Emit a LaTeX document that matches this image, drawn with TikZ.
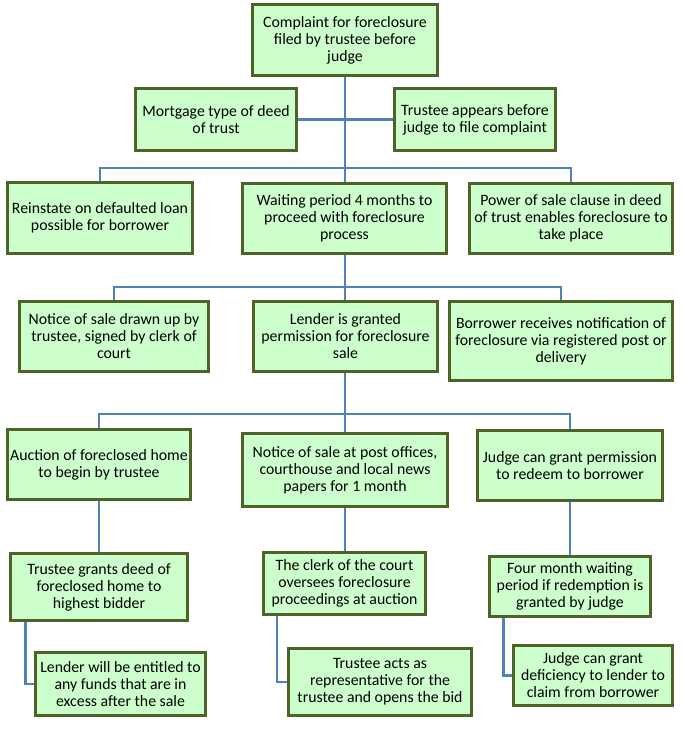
\documentclass[tikz,border=0pt]{standalone}
\usepackage{fontspec}
\setmainfont{Carlito}
\usetikzlibrary{backgrounds}
\definecolor{boxfill}{RGB}{204,255,204}
\definecolor{boxline}{RGB}{79,98,40}
\definecolor{connblue}{RGB}{79,129,189}
\begin{document}
\begin{tikzpicture}[x=1pt,y=-1pt,
  box/.style={draw=boxline, fill=boxfill, line width=3pt, align=center, inner sep=2pt,
    font=\fontsize{15.8}{17}\selectfont},
  link/.style={draw=connblue, line width=2.8pt}]
\useasboundingbox (0,0) rectangle (683,732);

% row 0
\node[box, minimum width=185pt, minimum height=71pt] (top) at (345,40)
  {Complaint for foreclosure\\filed by trustee before\\judge};
\node[box, minimum width=161pt, minimum height=62pt] (mort) at (216,119.5)
  {Mortgage type of deed\\of trust};
\node[box, minimum width=161pt, minimum height=62pt] (tapp) at (475,119.5)
  {Trustee appears before\\judge to file complaint};
% row 1
\node[box, minimum width=185pt, minimum height=71pt] (reinst) at (100,218)
  {Reinstate on defaulted loan\\possible for borrower};
\node[box, minimum width=204pt, minimum height=70pt] (wait) at (344.5,218.5)
  {Waiting period 4 months to\\proceed with foreclosure\\process};
\node[box, minimum width=203pt, minimum height=70pt] (power) at (571,218.5)
  {Power of sale clause in deed\\of trust enables foreclosure to\\take place};
% row 2
\node[box, minimum width=189pt, minimum height=70pt] (notice) at (114,336.5)
  {Notice of sale drawn up by\\trustee, signed by clerk of\\court};
\node[box, minimum width=184pt, minimum height=70pt] (lender) at (345.5,336.5)
  {Lender is granted\\permission for foreclosure\\sale};
\node[box, minimum width=223pt, minimum height=79pt] (borrower) at (561,341)
  {Borrower receives notification of\\foreclosure via registered post or\\delivery};
% row 3
\node[box, minimum width=183pt, minimum height=70pt] (auction) at (99,464.5)
  {Auction of foreclosed home\\to begin by trustee};
\node[box, minimum width=205pt, minimum height=73pt] (npost) at (345,470)
  {Notice of sale at post offices,\\courthouse and local news\\papers for 1 month};
\node[box, minimum width=185pt, minimum height=70pt] (judge) at (570,465.5)
  {Judge can grant permission\\to redeem to borrower};
% row 4
\node[box, minimum width=177pt, minimum height=67pt] (tgrants) at (99,587)
  {Trustee grants deed of\\foreclosed home to\\highest bidder};
\node[box, minimum width=162pt, minimum height=62pt] (clerk) at (344.5,583.5)
  {The clerk of the court\\oversees foreclosure\\proceedings at auction};
\node[box, minimum width=161pt, minimum height=60pt] (four) at (570,586.5)
  {Four month waiting\\period if redemption is\\granted by judge};
% row 5
\node[box, minimum width=170pt, minimum height=63pt] (lent) at (120.5,684)
  {Lender will be entitled to\\any funds that are in\\excess after the sale};
\node[box, minimum width=183pt, minimum height=67pt] (tacts) at (380,682)
  {Trustee acts as\\representative for the\\trustee and opens the bid};
\node[box, minimum width=159pt, minimum height=60pt] (jdef) at (593,675.5)
  {Judge can grant\\deficiency to lender to\\claim from borrower};

\coordinate (b1) at (345,168);
\coordinate (b2) at (345,287);
\coordinate (b3) at (345,414);

\begin{scope}[on background layer]
\fill[white] (0,0) rectangle (683,732);
\draw[link] (top.south) -- (b1);
\draw[link] (mort.east) -- (tapp.west);
\draw[link] (b1) -| (reinst.north);
\draw[link] (b1) -| (power.north);
\draw[link] (b1) -- (b1 |- wait.north);
\draw[link] (b1 |- wait.south) -- (b2);
\draw[link] (b2) -| (notice.north);
\draw[link] (b2) -| (borrower.north);
\draw[link] (b2) -- (b2 |- lender.north);
\draw[link] (b2 |- lender.south) -- (b3);
\draw[link] (b3) -| (auction.north);
\draw[link] (b3) -| (judge.north);
\draw[link] (b3) -- (npost.north);
\draw[link] (auction.south) -- (auction.south |- tgrants.north);
\draw[link] (npost.south) -- (npost.south |- clerk.north);
\draw[link] (judge.south) -- (judge.south |- four.north);
\draw[link] ([xshift=16.5pt]tgrants.south west) |- (lent.west);
\draw[link] ([xshift=15pt]clerk.south west) |- (tacts.west);
\draw[link] ([xshift=15.5pt]four.south west) |- (jdef.west);
\end{scope}
\end{tikzpicture}
\end{document}
